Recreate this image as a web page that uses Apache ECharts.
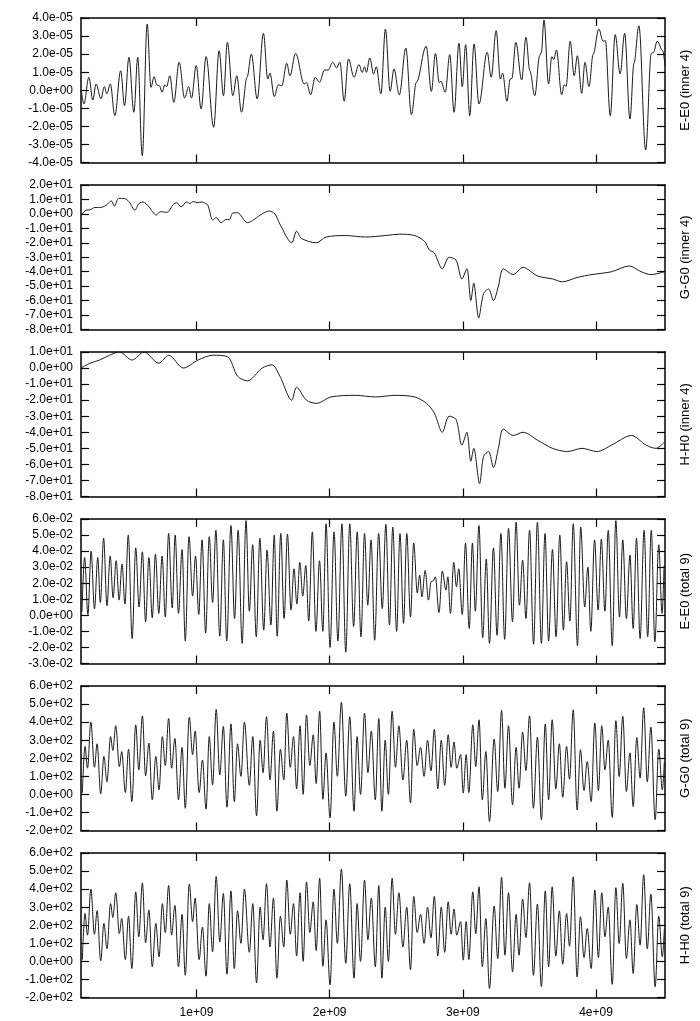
<!DOCTYPE html>
<html><head><meta charset="utf-8">
<script src="https://cdn.jsdelivr.net/npm/echarts@6/dist/echarts.min.js"></script>
<style>html,body{margin:0;padding:0;background:#fff}#c{width:700px;height:1021px}</style>
</head><body><div id="c"></div><script>
// x values are in units of 1e9
const xTickValues = [1, 2, 3, 4];
const xTickLabels = ['1e+09', '2e+09', '3e+09', '4e+09'];
const xMin = 0.133, xMax = 4.518;
const panelNames = ['E-E0 (inner 4)', 'G-G0 (inner 4)', 'H-H0 (inner 4)', 'E-E0 (total 9)', 'G-G0 (total 9)', 'H-H0 (total 9)'];
const yMins = [-4e-5, -80, -80, -3e-2, -200, -200];
const yMaxs = [4e-5, 20, 10, 6e-2, 600, 600];
const yIntervals = [1e-5, 10, 10, 1e-2, 100, 100];

const eInner = [[0.135,0.0],[0.155,-0.76e-5],[0.192,0.72e-5],[0.222,-0.54e-5],[0.246,0.35e-5],[0.283,-0.48e-5],[0.308,0.2e-5],[0.327,-0.2e-5],[0.353,0.35e-5],[0.387,-1.41e-5],[0.431,1.08e-5],[0.460,-0.85e-5],[0.493,1.82e-5],[0.530,-1.22e-5],[0.559,1.82e-5],[0.593,-3.62e-5],[0.630,3.67e-5],[0.658,0.16e-5],[0.682,0.75e-5],[0.702,0.3e-5],[0.722,0.25e-5],[0.741,-0.11e-5],[0.763,0.3e-5],[0.776,0.2e-5],[0.800,0.8e-5],[0.830,-0.67e-5],[0.870,1.55e-5],[0.911,-0.43e-5],[0.941,0.2e-5],[0.963,-0.43e-5],[0.998,1.36e-5],[1.035,-1.04e-5],[1.072,1.86e-5],[1.129,-2.05e-5],[1.170,2.19e-5],[1.203,-0.3e-5],[1.232,2.65e-5],[1.273,-0.3e-5],[1.303,0.8e-5],[1.338,-1.22e-5],[1.380,0.72e-5],[1.412,2.0e-5],[1.456,-0.48e-5],[1.503,3.15e-5],[1.535,0.62e-5],[1.552,0.94e-5],[1.584,-0.35e-5],[1.615,0.3e-5],[1.641,0.25e-5],[1.678,1.49e-5],[1.702,0.8e-5],[1.744,2.04e-5],[1.809,0.35e-5],[1.826,0.42e-5],[1.857,-0.25e-5],[1.892,0.72e-5],[1.924,0.44e-5],[1.961,1.12e-5],[1.990,1.12e-5],[2.023,1.55e-5],[2.052,1.23e-5],[2.077,1.55e-5],[2.109,-0.61e-5],[2.141,1.73e-5],[2.183,0.72e-5],[2.220,1.42e-5],[2.245,0.99e-5],[2.262,1.3e-5],[2.276,0.99e-5],[2.301,1.79e-5],[2.330,0.9e-5],[2.350,1.3e-5],[2.385,-0.2e-5],[2.419,3.39e-5],[2.454,-0.06e-5],[2.483,1.18e-5],[2.523,-0.25e-5],[2.572,2.34e-5],[2.614,-1.35e-5],[2.651,0.44e-5],[2.725,2.43e-5],[2.764,-0.06e-5],[2.794,2.04e-5],[2.823,0.42e-5],[2.836,0.5e-5],[2.868,-0.11e-5],[2.902,1.97e-5],[2.934,-1.22e-5],[2.971,2.6e-5],[2.996,0.2e-5],[3.021,2.52e-5],[3.052,-1.41e-5],[3.084,2.56e-5],[3.121,-0.76e-5],[3.183,2.1e-5],[3.213,0.72e-5],[3.250,3.3e-5],[3.282,0.62e-5],[3.299,0.94e-5],[3.331,-0.61e-5],[3.356,0.62e-5],[3.368,0.65e-5],[3.398,2.65e-5],[3.442,0.57e-5],[3.474,2.93e-5],[3.503,1.08e-5],[3.540,-0.3e-5],[3.577,1.91e-5],[3.590,2.1e-5],[3.609,3.89e-5],[3.644,0.35e-5],[3.668,1.86e-5],[3.683,1.7e-5],[3.703,2.23e-5],[3.742,-0.25e-5],[3.762,0.3e-5],[3.775,0.2e-5],[3.806,2.71e-5],[3.836,0.8e-5],[3.860,1.91e-5],[3.893,-0.17e-5],[3.917,1.55e-5],[3.947,0.2e-5],[3.979,2.0e-5],[4.021,3.39e-5],[4.053,2.71e-5],[4.070,2.75e-5],[4.107,-1.41e-5],[4.144,3.08e-5],[4.181,0.9e-5],[4.215,3.15e-5],[4.255,-1.59e-5],[4.285,1.49e-5],[4.322,3.57e-5],[4.373,-3.31e-5],[4.415,2.04e-5],[4.432,2.1e-5],[4.459,2.71e-5],[4.501,2.19e-5],[4.518,1.36e-5]];

const gInner = [[0.138,-0.8],[0.170,2.6],[0.200,2.8],[0.237,4.4],[0.273,4.4],[0.323,6],[0.360,9.0],[0.384,5.4],[0.416,10.7],[0.458,10.7],[0.495,8.3],[0.537,2.6],[0.569,7.2],[0.599,8.3],[0.643,4.9],[0.697,-0.8],[0.729,1.5],[0.778,1.1],[0.828,6.7],[0.852,7.7],[0.885,4.9],[0.926,8.3],[0.951,7.2],[0.976,8.5],[1.007,7.8],[1.042,8.3],[1.067,7.2],[1.086,6],[1.123,-4.3],[1.148,-2.5],[1.185,-6.1],[1.222,-3.9],[1.247,-4],[1.271,0.5],[1.308,0.8],[1.382,-6],[1.493,0],[1.545,2],[1.589,0],[1.626,-7],[1.715,-20],[1.752,-12],[1.789,-17],[1.900,-20],[1.973,-16],[2.121,-15],[2.269,-16],[2.417,-15],[2.528,-14],[2.639,-15],[2.713,-19],[2.749,-25],[2.786,-27],[2.846,-38],[2.897,-30],[2.949,-32],[2.993,-45],[3.030,-38],[3.060,-60],[3.082,-48],[3.119,-72],[3.156,-55],[3.193,-52],[3.230,-60],[3.267,-50],[3.304,-38],[3.378,-42],[3.452,-37],[3.562,-43],[3.673,-45],[3.747,-47],[3.858,-44],[3.969,-42],[4.117,-40],[4.250,-36],[4.339,-40],[4.413,-42],[4.516,-40]];

const hInner = [[0.133,0],[0.200,3],[0.273,5],[0.347,8],[0.421,10],[0.517,5],[0.606,10],[0.717,3],[0.791,8],[0.902,0],[1.012,5],[1.123,8],[1.234,7],[1.308,-5],[1.382,-8],[1.493,0],[1.567,2],[1.626,-5],[1.715,-20],[1.752,-12],[1.826,-20],[1.900,-22],[2.010,-18],[2.195,-17],[2.343,-18],[2.491,-17],[2.639,-18],[2.727,-22],[2.786,-28],[2.846,-40],[2.897,-30],[2.949,-32],[2.993,-48],[3.030,-40],[3.060,-58],[3.082,-50],[3.126,-72],[3.156,-55],[3.193,-52],[3.230,-62],[3.267,-50],[3.304,-38],[3.378,-42],[3.452,-40],[3.562,-45],[3.673,-50],[3.784,-52],[3.895,-50],[4.006,-52],[4.117,-48],[4.265,-42],[4.376,-48],[4.450,-50],[4.516,-46]];

const eTotal = [[0.140,0.2e-2],[0.160,3.6e-2],[0.185,0.05e-2],[0.209,4.0e-2],[0.234,0.4e-2],[0.259,3.6e-2],[0.278,0.8e-2],[0.303,4.8e-2],[0.328,0.6e-2],[0.352,3.7e-2],[0.374,1.1e-2],[0.397,3.4e-2],[0.419,0.95e-2],[0.441,3.2e-2],[0.463,0.7e-2],[0.488,5.0e-2],[0.517,-1.45e-2],[0.544,4.2e-2],[0.569,0.53e-2],[0.594,3.96e-2],[0.618,-0.4e-2],[0.643,3.6e-2],[0.668,-0.15e-2],[0.692,3.8e-2],[0.717,0.12e-2],[0.742,3.7e-2],[0.766,-0.1e-2],[0.791,5.1e-2],[0.818,0.47e-2],[0.840,5.0e-2],[0.865,0.12e-2],[0.892,4.1e-2],[0.916,-1.6e-2],[0.944,4.9e-2],[0.971,1.2e-2],[0.993,3.7e-2],[1.017,0.05e-2],[1.042,4.7e-2],[1.069,-1.1e-2],[1.096,4.9e-2],[1.121,0.8e-2],[1.146,5.3e-2],[1.175,-1.3e-2],[1.202,4.7e-2],[1.227,-1.6e-2],[1.259,5.6e-2],[1.286,-0.2e-2],[1.313,5.3e-2],[1.343,-1.75e-2],[1.372,5.9e-2],[1.397,0.26e-2],[1.422,4.4e-2],[1.449,-1.34e-2],[1.476,4.8e-2],[1.505,-0.92e-2],[1.530,4.06e-2],[1.559,-0.6e-2],[1.584,5.0e-2],[1.606,-1.3e-2],[1.633,5.1e-2],[1.658,-0.2e-2],[1.683,5.05e-2],[1.710,0.33e-2],[1.732,2.9e-2],[1.754,0.7e-2],[1.776,3.3e-2],[1.798,1.2e-2],[1.821,3.1e-2],[1.843,-0.36e-2],[1.870,5.2e-2],[1.897,-1.0e-2],[1.924,3.4e-2],[1.949,-1.0e-2],[1.973,5.7e-2],[2.003,-2.0e-2],[2.033,5.2e-2],[2.062,-1.6e-2],[2.092,5.7e-2],[2.121,-2.3e-2],[2.151,5.7e-2],[2.180,-0.7e-2],[2.207,5.2e-2],[2.235,-1.34e-2],[2.262,5.1e-2],[2.286,0.63e-2],[2.311,4.7e-2],[2.338,-1.55e-2],[2.368,5.1e-2],[2.395,0.42e-2],[2.422,5.67e-2],[2.449,-0.6e-2],[2.474,5.5e-2],[2.503,-1.0e-2],[2.528,5.1e-2],[2.555,-0.5e-2],[2.579,5.1e-2],[2.607,-0.1e-2],[2.631,4.5e-2],[2.658,1.4e-2],[2.676,2.5e-2],[2.693,1.15e-2],[2.717,2.8e-2],[2.742,0.95e-2],[2.762,2.1e-2],[2.779,2.15e-2],[2.794,2.4e-2],[2.821,0.18e-2],[2.846,2.75e-2],[2.873,1.57e-2],[2.888,2.4e-2],[2.907,0.12e-2],[2.932,3.3e-2],[2.952,1.78e-2],[2.969,2.9e-2],[2.996,0.05e-2],[3.020,4.5e-2],[3.048,-0.82e-2],[3.072,4.5e-2],[3.094,0.26e-2],[3.121,5.6e-2],[3.149,-1.4e-2],[3.176,3.5e-2],[3.200,-1.75e-2],[3.230,4.2e-2],[3.257,-1.24e-2],[3.286,5.1e-2],[3.314,-1.5e-2],[3.343,5.42e-2],[3.373,-0.4e-2],[3.400,5.8e-2],[3.425,0.63e-2],[3.449,3.44e-2],[3.474,-0.2e-2],[3.501,5.3e-2],[3.531,-1.8e-2],[3.560,5.8e-2],[3.590,-1.75e-2],[3.617,5.1e-2],[3.644,-1.6e-2],[3.673,4.1e-2],[3.700,-1.34e-2],[3.728,5.0e-2],[3.755,-0.92e-2],[3.779,3.34e-2],[3.804,-0.36e-2],[3.829,5.7e-2],[3.861,-1.9e-2],[3.885,5.5e-2],[3.915,0.53e-2],[3.939,3.0e-2],[3.961,-1.0e-2],[3.989,4.7e-2],[4.016,0.33e-2],[4.040,4.75e-2],[4.067,0.26e-2],[4.092,5.3e-2],[4.122,-1.9e-2],[4.149,5.9e-2],[4.176,-0.1e-2],[4.201,4.7e-2],[4.228,-0.2e-2],[4.255,3.75e-2],[4.279,-0.82e-2],[4.304,4.8e-2],[4.331,-1.45e-2],[4.361,5.3e-2],[4.388,-1.34e-2],[4.415,5.3e-2],[4.442,-1.65e-2],[4.471,4.4e-2],[4.496,0.12e-2],[4.511,3.1e-2]];

const hTotal = [[0.143,7],[0.163,265],[0.182,145],[0.207,400],[0.234,150],[0.254,280],[0.281,3],[0.305,210],[0.328,70],[0.355,320],[0.372,243],[0.394,380],[0.421,154],[0.439,237],[0.466,10],[0.490,250],[0.515,-40],[0.544,385],[0.567,136],[0.594,435],[0.618,103],[0.643,284],[0.668,-30],[0.695,210],[0.719,25],[0.744,320],[0.766,160],[0.791,420],[0.813,145],[0.838,310],[0.865,-30],[0.892,260],[0.916,-77],[0.946,428],[0.971,220],[0.990,350],[1.020,10],[1.045,190],[1.072,-82],[1.096,320],[1.121,53],[1.148,470],[1.175,108],[1.202,376],[1.229,-71],[1.259,390],[1.284,-40],
[1.308,280],[1.334,100],[1.360,400],[1.397,50],[1.423,320],[1.451,-119],[1.478,300],[1.500,120],[1.526,430],[1.552,80],[1.578,350],[1.604,-93],[1.630,250],[1.656,80],[1.678,450],[1.704,150],[1.729,320],[1.752,30],[1.778,380],[1.801,0],[1.826,440],[1.851,160],[1.877,330],[1.899,60],[1.925,460],[1.949,-27],[1.973,230],[2.003,-130],[2.032,400],[2.058,100],[2.088,510],[2.121,-10],[2.151,430],[2.183,-93],[2.206,320],[2.232,0],[2.262,450],[2.287,120],[2.313,350],[2.343,-30],[2.369,420],[2.392,-93],[2.417,300],[2.441,0],[2.469,460],[2.494,150],[2.520,380],[2.550,80],[2.579,300],[2.607,-47],[2.631,360],[2.657,160],[2.683,260],[2.709,100],[2.735,300],[2.761,130],[2.786,360],[2.812,30],[2.838,300],[2.864,50],[2.890,330],[2.912,150],
[2.934,290],[2.954,145],[2.984,220],[3.003,7],[3.025,220],[3.045,10],[3.075,385],[3.097,154],[3.122,413],[3.146,-30],[3.173,237],[3.200,-150],[3.235,306],[3.262,16],[3.291,465],[3.316,34],[3.343,380],[3.373,-58],[3.400,260],[3.422,34],[3.449,345],[3.474,132],[3.501,435],[3.530,-77],[3.560,317],[3.590,-140],[3.619,390],[3.644,-30],[3.671,413],[3.698,29],[3.725,280],[3.750,-16],[3.779,265],[3.801,84],[3.829,468],[3.858,-86],[3.883,247],[3.910,21],[3.934,182],[3.964,-40],[3.991,395],[4.018,21],[4.043,380],[4.067,136],[4.092,300],[4.122,-127],[4.149,408],[4.174,99],[4.201,432],[4.228,16],[4.255,230],[4.279,-67],[4.306,315],[4.331,90],[4.358,480],[4.385,70],[4.412,372],[4.444,-140],[4.471,250],[4.498,25],[4.513,180]];
const gTotal = hTotal.map(p => [p[0], p[1]]);

const seriesData = [eInner, gInner, hInner, eTotal, gTotal, hTotal];
const oscillating = [true, false, false, true, true, true];

function sci(v, step) {
  if (Math.abs(v) < step * 1e-6) v = 0;
  let s = v.toExponential(1);
  return s.replace(/e([+-])(\d)$/, 'e$10$2');
}

const FONT = 'Liberation Sans, Arial, sans-serif';
const axisLine = { show: true, onZero: false, lineStyle: { color: '#000', width: 1.5 } };
const tickStyle = { color: '#000', width: 1.2 };
const grids = [], xAxes = [], yAxes = [], series = [];
for (let i = 0; i < 6; i++) {
  grids.push({ left: 81, width: 593.5, top: 18 + 167 * i, height: 144.5, containLabel: false });
  xAxes.push({
    type: 'value', gridIndex: i, min: xMin, max: xMax, position: 'bottom',
    axisLine, splitLine: { show: false },
    axisTick: { show: true, inside: true, length: 8, customValues: xTickValues, lineStyle: tickStyle },
    axisLabel: { show: i === 5, customValues: xTickValues, color: '#000', fontSize: 12, fontFamily: FONT, margin: 9,
      formatter: v => xTickLabels[xTickValues.indexOf(Math.round(v))] || '' }
  });
  xAxes.push({
    type: 'value', gridIndex: i, min: xMin, max: xMax, position: 'top',
    axisLine, splitLine: { show: false },
    axisTick: { show: true, inside: true, length: 8, customValues: xTickValues, lineStyle: tickStyle },
    axisLabel: { show: false }
  });
  const step = yIntervals[i];
  yAxes.push({
    type: 'value', gridIndex: i, min: yMins[i], max: yMaxs[i], interval: step, position: 'left',
    axisLine, splitLine: { show: false },
    axisTick: { show: true, inside: true, length: 8, lineStyle: tickStyle },
    axisLabel: { color: '#000', fontSize: 12, fontFamily: FONT, margin: 8, formatter: v => sci(v, step) }
  });
  yAxes.push({
    type: 'value', gridIndex: i, min: yMins[i], max: yMaxs[i], interval: step, position: 'right',
    axisLine, splitLine: { show: false },
    axisTick: { show: true, inside: true, length: 8, lineStyle: tickStyle },
    axisLabel: { show: false },
    name: panelNames[i], nameLocation: 'middle', nameRotate: 90, nameGap: 14,
    nameTextStyle: { color: '#000', fontSize: 13, fontFamily: FONT }
  });
  const s = {
    type: 'line', xAxisIndex: 2 * i, yAxisIndex: 2 * i, data: seriesData[i],
    showSymbol: false, lineStyle: { color: '#1a1a1a', width: 1 }, animation: false
  };
  if (oscillating[i]) { s.smooth = 0.36; s.smoothMonotone = 'x'; } else { s.smooth = 0.3; }
  series.push(s);
}

const chart = echarts.init(document.getElementById('c'), null, { renderer: 'canvas' });
chart.setOption({ animation: false, backgroundColor: '#fff', grid: grids, xAxis: xAxes, yAxis: yAxes, series });
</script></body></html>
